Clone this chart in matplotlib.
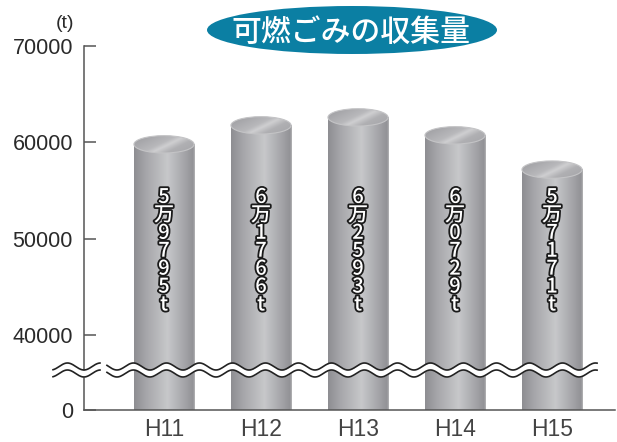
import numpy as np
import matplotlib
matplotlib.use("Agg")
import matplotlib.pyplot as plt
from matplotlib.colors import LinearSegmentedColormap
from matplotlib.patches import Ellipse
import matplotlib.patheffects as pe

plt.rcParams['font.family'] = ['Liberation Sans', 'Noto Sans CJK JP', 'DejaVu Sans']

# データ
years = ["H11", "H12", "H13", "H14", "H15"]
amounts = [59795, 61766, 62593, 60729, 57171]
yticks = [40000, 50000, 60000, 70000]
title = "可燃ごみの収集量"
unit = "(t)"

base = 32214      # 目盛り「0」の位置(省略線より下)
brk = 36367       # 省略線の位置
px_y = 10000 / 96.33
px_x = 1 / 97.0

fig = plt.figure(figsize=(6.17, 4.42), dpi=100)
ax = fig.add_axes([84 / 617, 1 - 410 / 442, 531 / 617, 364 / 442])

body_cmap = LinearSegmentedColormap.from_list(
    "body", [(0, "#8e8e92"), (0.2, "#a6a6aa"), (0.55, "#c7c8ca"), (0.85, "#a2a2a6"), (0.97, "#929296"), (1, "#b4b4b6")])
cap_cmap = LinearSegmentedColormap.from_list(
    "cap", [(0, "#9a9a9e"), (0.45, "#b8b8bb"), (0.55, "#cfcfd1"), (0.7, "#b0b0b3"), (1, "#a4a4a8")])

w = 0.62
cap_h = 1800
grad = np.linspace(0, 1, 256)[None, :]
gx, gy = np.meshgrid(np.linspace(0, 1, 64), np.linspace(0, 1, 64))
diag = (gx + (1 - gy) * 0.6) / 1.6

for i, v in enumerate(amounts):
    x0, x1 = i - w / 2, i + w / 2
    ax.imshow(grad, extent=[x0, x1, base, v], aspect="auto", cmap=body_cmap, zorder=2, interpolation="bilinear")
    cap = Ellipse((i, v), w, cap_h, facecolor="none", edgecolor="#c4c4c6", lw=0.8, zorder=4)
    ax.add_patch(cap)
    im = ax.imshow(diag, extent=[x0, x1, v - cap_h / 2, v + cap_h / 2], aspect="auto", cmap=cap_cmap,
                   zorder=3, interpolation="bilinear", origin="lower")
    im.set_clip_path(cap)

    label = f"{v // 10000}万{v % 10000:04d}t"
    n = len(label)
    for k, ch in enumerate(label):
        off = ((n - 1) / 2 - k) * 12.9
        ax.annotate(ch, xy=(i, 48700), xytext=(0, off), textcoords="offset points",
                    ha="center", va="center", fontsize=14.5, fontweight="medium", color="white",
                    family=["Noto Sans CJK JP", "DejaVu Sans"], zorder=6,
                    path_effects=[pe.withStroke(linewidth=2.6, foreground="#1a1a1a")])

# 省略線(波線)
period = 33 * px_x
amp = 3.5 * px_y
gap = 3.5 * px_y
for xa, xb in [(-1.144, -0.66), (-0.588, 4.464)]:
    xs = np.linspace(xa, xb, 400)
    wave = amp * np.sin(2 * np.pi * (xs + 0.4) / period)
    ax.fill_between(xs, brk - gap + wave, brk + gap + wave, color="white", zorder=7, clip_on=False, lw=0)
    ax.plot(xs, brk + gap + wave, color="#222222", lw=1.2, zorder=8, clip_on=False)
    ax.plot(xs, brk - gap + wave, color="#222222", lw=1.2, zorder=8, clip_on=False)

ax.set_xlim(-0.8247, 4.649)
ax.set_ylim(base, 70000)
ax.set_xticks(range(len(years)))
ax.set_xticklabels(years)
ax.set_yticks([base] + yticks)
ax.set_yticklabels(["0"] + [str(t) for t in yticks])
ax.tick_params(axis="y", direction="in", length=8.5, width=1.1, color="#555555", pad=8,
               labelsize=15.5, labelcolor="#2a2a2a")
ax.tick_params(axis="x", length=0, pad=6, labelsize=16.5, labelcolor="#444444")
for s in ["top", "right"]:
    ax.spines[s].set_visible(False)
for s in ["left", "bottom"]:
    ax.spines[s].set_color("#555555")
    ax.spines[s].set_linewidth(1.1)

fig.text(65 / 617, 1 - 23 / 442, unit, ha="center", va="center", fontsize=14, color="#2a2a2a")

# タイトル
fig.patches.append(Ellipse((352 / 617, 1 - 30 / 442), 290 / 617, 48 / 442,
                           transform=fig.transFigure, facecolor="#0b7fa3", edgecolor="none"))
fig.text(351 / 617, 1 - 32 / 442, title, ha="center", va="center", fontsize=21.5, color="white",
         fontweight="medium", family=["Noto Sans CJK JP", "DejaVu Sans"])

fig.savefig("out.png", dpi=100)
